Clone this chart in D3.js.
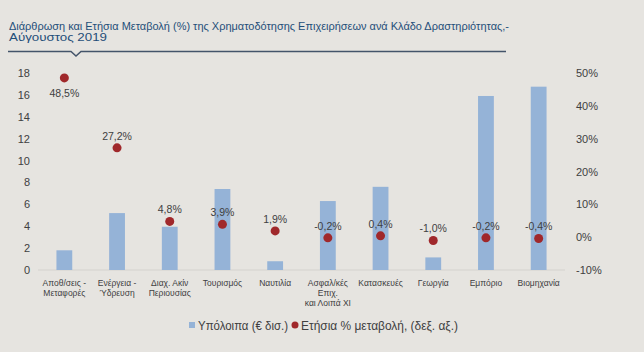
<!DOCTYPE html>
<html>
<head>
	<meta charset="utf-8">
	<title>Χρηματοδότηση ανά κλάδο</title>
	<style>
		body { margin: 0; background: #e6e4e0; }
		svg { display: block; font-family: "Liberation Sans", Arial, sans-serif; }
	</style>
</head>
<body>
	<svg id="chart" width="644" height="352"></svg>
<script src="https://cdn.jsdelivr.net/npm/d3@7"></script>
<script>
	// κλάδοι (γραμμές ετικέτας)
	const categories = [
		["Αποθ/σεις -", "Μεταφορές"],
		["Ενέργεια -", "Ύδρευση"],
		["Διαχ. Ακίν", "Περιουσίας"],
		["Τουρισμός"],
		["Ναυτιλία"],
		["Ασφαλ/κές", "Επιχ.", "και Λοιπά ΧΙ"],
		["Κατασκευές"],
		["Γεωργία"],
		["Εμπόριο"],
		["Βιομηχανία"]
	]
	// υπόλοιπα (€ δισ.)
	const balances = [1.8, 5.2, 3.95, 7.4, 0.8, 6.3, 7.6, 1.15, 15.9, 16.75]
	// ετήσια % μεταβολή
	const changes = [48.5, 27.2, 4.8, 3.9, 1.9, -0.2, 0.4, -1.0, -0.2, -0.4]
	const leftTicks = [0, 2, 4, 6, 8, 10, 12, 14, 16, 18]
	const rightTicks = [-10, 0, 10, 20, 30, 40, 50]

	const svg = d3.select("#chart")
	const textCol = "#404040"

	// τίτλος (στενόμακρη γραμματοσειρά, τεντωμένη σε πλάτος)
	const title = svg.append("g").attr("fill", "#1f4e79").attr("font-size", 11.5)
	title.append("text").attr("x", 9).attr("y", 30)
		.attr("textLength", 500).attr("lengthAdjust", "spacingAndGlyphs")
		.text("Διάρθρωση και Ετήσια Μεταβολή (%) της Χρηματοδότησης Επιχειρήσεων ανά Κλάδο Δραστηριότητας,-")
	title.append("text").attr("x", 9).attr("y", 40.5)
		.attr("textLength", 98).attr("lengthAdjust", "spacingAndGlyphs")
		.text("Αύγουστος 2019")
	svg.append("path")
		.attr("d", "M8,51.5 H71 L76,56 L81,51.5 H506")
		.attr("fill", "none").attr("stroke", "#44546a").attr("stroke-width", 1.5)

	// κλίμακες
	const x = d3.scaleBand().domain(d3.range(categories.length)).range([38, 565]).paddingInner(0.7).paddingOuter(0.35)
	const yL = d3.scaleLinear().domain([0, 18]).range([270, 73])
	const yR = d3.scaleLinear().domain([-10, 50]).range([270, 73])

	// άξονες
	const axL = svg.append("g").attr("transform", "translate(30,0)")
		.call(d3.axisLeft(yL).tickValues(leftTicks).tickSize(0).tickPadding(0))
	const axR = svg.append("g").attr("transform", "translate(576,0)")
		.call(d3.axisRight(yR).tickValues(rightTicks).tickSize(0).tickPadding(0).tickFormat(d => d + "%"))
	for (const ax of [axL, axR]) {
		ax.select(".domain").remove()
		ax.selectAll("text").attr("fill", textCol).attr("font-size", 11)
			.attr("font-family", "Liberation Sans, Arial, sans-serif")
	}
	svg.append("line").attr("x1", 38).attr("x2", 565).attr("y1", yL(0)).attr("y2", yL(0))
		.attr("stroke", "#d4d2ce")

	// ράβδοι
	svg.append("g").selectAll("rect").data(balances).enter().append("rect")
		.attr("x", (d, i) => x(i))
		.attr("width", x.bandwidth())
		.attr("y", d => yL(d))
		.attr("height", d => yL(0) - yL(d))
		.attr("fill", "#95b3d7")

	// κουκκίδες
	const cx = i => x(i) + x.bandwidth() / 2
	svg.append("g").selectAll("circle").data(changes).enter().append("circle")
		.attr("cx", (d, i) => cx(i))
		.attr("cy", d => yR(d))
		.attr("r", 4.5)
		.attr("fill", "#a0282b")
	svg.append("g").selectAll("text").data(changes).enter().append("text")
		.attr("x", (d, i) => cx(i))
		.attr("y", (d, i) => yR(d) + (i === 0 ? 19 : -8))
		.attr("text-anchor", "middle").attr("font-size", 10.5).attr("fill", textCol)
		.text(d => d.toFixed(1).replace(".", ",") + "%")

	// ετικέτες κατηγοριών
	const cl = svg.append("g").selectAll("text").data(categories).enter().append("text")
		.attr("text-anchor", "middle").attr("font-size", 8.5).attr("fill", textCol)
	cl.selectAll("tspan").data((d, i) => d.map(s => [s, i])).enter().append("tspan")
		.attr("x", d => cx(d[1]))
		.attr("y", (d, j) => 286 + j * 10)
		.text(d => d[0])

	// υπόμνημα
	const lg = svg.append("g").attr("font-size", 12).attr("fill", textCol)
	lg.append("rect").attr("x", 189).attr("y", 322).attr("width", 6).attr("height", 6).attr("fill", "#95b3d7")
	lg.append("text").attr("x", 198).attr("y", 330)
		.attr("textLength", 90).attr("lengthAdjust", "spacingAndGlyphs")
		.text("Υπόλοιπα (€ δισ.)")
	lg.append("circle").attr("cx", 295).attr("cy", 325).attr("r", 3.5).attr("fill", "#a0282b")
	lg.append("text").attr("x", 301).attr("y", 330)
		.attr("textLength", 157).attr("lengthAdjust", "spacingAndGlyphs")
		.text("Ετήσια % μεταβολή, (δεξ. αξ.)")
</script>
</body>
</html>
